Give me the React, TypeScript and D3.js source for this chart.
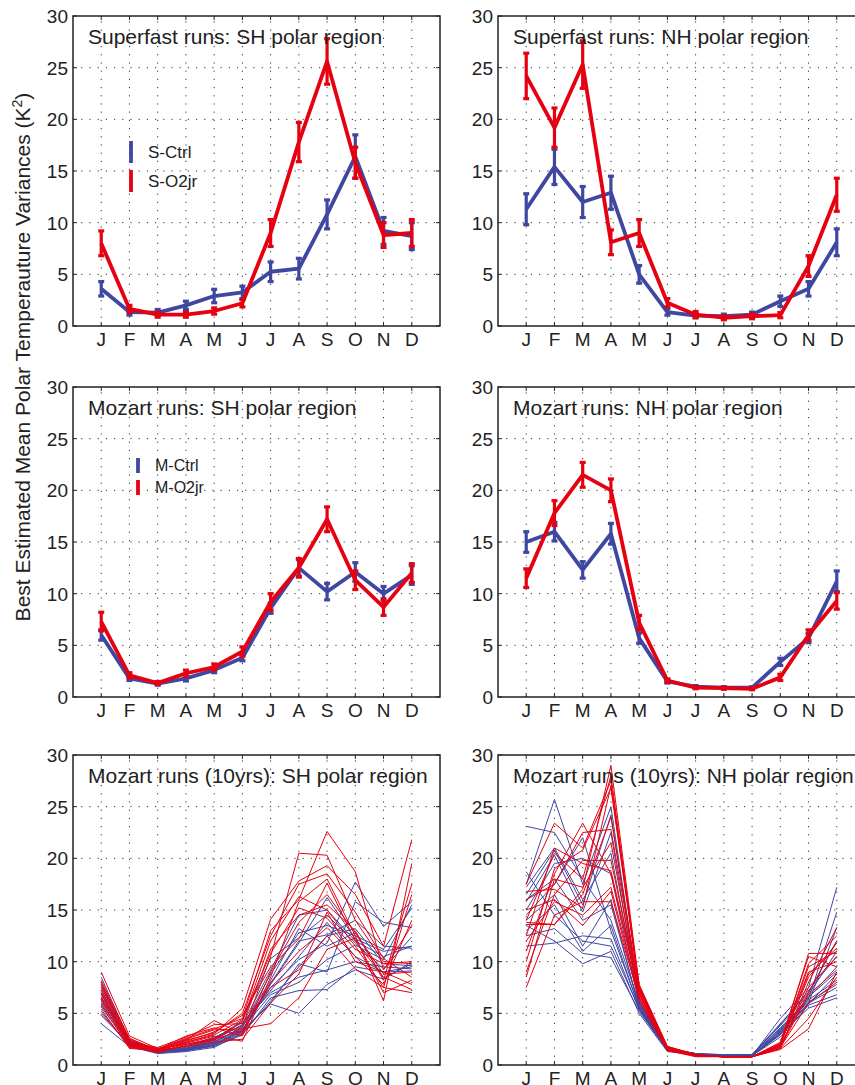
import React from "react";
import * as d3 from "d3";

// Month labels and positions
const months = ["J", "F", "M", "A", "M", "J", "J", "A", "S", "O", "N", "D"];
const yTicks = [0, 5, 10, 15, 20, 25, 30];

// Superfast runs, SH polar region (mean, error)
const sfShCtrl = [3.6, 1.35, 1.3, 2.0, 2.9, 3.25, 5.25, 5.55, 10.8, 16.4, 9.2, 8.7];
const sfShCtrlErr = [0.7, 0.3, 0.3, 0.4, 0.65, 0.6, 0.95, 1.0, 1.4, 2.1, 1.3, 1.3];
const sfShO2 = [8.0, 1.65, 1.1, 1.1, 1.45, 2.2, 9.0, 17.8, 25.6, 15.8, 8.8, 9.0];
const sfShO2Err = [1.2, 0.35, 0.25, 0.25, 0.3, 0.35, 1.3, 1.9, 2.2, 1.5, 1.2, 1.3];

// Superfast runs, NH polar region
const sfNhCtrl = [11.3, 15.4, 12.0, 12.9, 5.0, 1.35, 1.0, 0.95, 1.1, 2.4, 3.6, 8.1];
const sfNhCtrlErr = [1.5, 1.7, 1.5, 1.6, 0.85, 0.3, 0.2, 0.2, 0.25, 0.5, 0.7, 1.3];
const sfNhO2 = [24.2, 19.2, 25.3, 8.1, 9.0, 2.25, 1.1, 0.8, 0.95, 1.05, 5.8, 12.7];
const sfNhO2Err = [2.2, 1.9, 2.3, 1.2, 1.3, 0.4, 0.3, 0.2, 0.25, 0.25, 1.0, 1.6];

// Mozart runs, SH polar region
const mzShCtrl = [6.0, 1.8, 1.3, 1.8, 2.6, 3.8, 8.6, 12.5, 10.2, 12.1, 10.0, 11.8];
const mzShCtrlErr = [0.5, 0.2, 0.15, 0.25, 0.25, 0.3, 0.5, 0.8, 0.8, 0.9, 0.7, 0.9];
const mzShO2 = [7.3, 2.1, 1.35, 2.3, 2.9, 4.4, 9.2, 12.5, 17.2, 11.3, 8.7, 12.0];
const mzShO2Err = [0.9, 0.25, 0.15, 0.3, 0.3, 0.45, 0.8, 0.9, 1.2, 0.9, 0.8, 0.9];

// Mozart runs, NH polar region
const mzNhCtrl = [15.0, 16.0, 12.3, 15.8, 5.7, 1.5, 1.0, 0.9, 0.9, 3.4, 5.7, 11.2];
const mzNhCtrlErr = [1.0, 0.9, 0.8, 1.0, 0.5, 0.15, 0.1, 0.1, 0.1, 0.35, 0.45, 1.0];
const mzNhO2 = [11.5, 17.8, 21.5, 20.0, 7.2, 1.6, 0.9, 0.85, 0.8, 1.9, 6.0, 9.3];
const mzNhO2Err = [0.9, 1.2, 1.2, 1.1, 0.7, 0.15, 0.1, 0.1, 0.1, 0.3, 0.5, 0.8];

// Mozart 10-year runs, SH polar region: one row per run
const mz10ShCtrl = [
  [8.5, 2.4, 1.4, 1.6, 2.2, 3.6, 8.8, 12.8, 13.5, 12.5, 11.2, 15.2],
  [7.8, 2.2, 1.3, 1.5, 2.0, 3.3, 7.5, 10.2, 11.8, 17.7, 13.4, 15.8],
  [7.2, 2.1, 1.2, 1.4, 1.9, 3.0, 6.2, 9.5, 12.5, 13.2, 9.8, 9.6],
  [6.8, 2.0, 1.3, 1.6, 2.4, 3.9, 9.2, 14.5, 15.0, 12.0, 10.5, 11.5],
  [6.5, 2.3, 1.4, 1.7, 2.6, 4.1, 7.0, 8.5, 9.2, 10.0, 9.5, 9.3],
  [6.0, 1.9, 1.2, 1.5, 2.1, 3.4, 5.9, 5.0, 7.8, 9.2, 8.3, 10.0],
  [5.6, 2.0, 1.3, 1.4, 1.8, 2.9, 6.5, 7.2, 7.3, 9.5, 9.0, 9.1],
  [5.2, 1.8, 1.1, 1.3, 1.7, 3.1, 7.8, 11.8, 16.2, 12.2, 11.0, 11.5],
  [4.8, 2.0, 1.2, 1.4, 1.9, 3.2, 6.0, 9.8, 9.0, 15.8, 13.8, 13.3],
  [4.0, 1.8, 1.2, 1.5, 2.2, 3.7, 8.2, 13.2, 11.5, 12.8, 8.4, 9.8],
  [7.5, 2.3, 1.3, 1.6, 2.5, 4.3, 10.3, 12.3, 14.5, 11.8, 9.3, 12.4],
  [6.3, 2.1, 1.4, 1.8, 2.7, 3.8, 7.2, 10.5, 13.8, 10.5, 9.0, 9.5],
  [5.9, 2.2, 1.3, 1.5, 2.3, 3.5, 6.8, 8.0, 10.2, 11.6, 10.2, 15.5],
  [7.0, 2.1, 1.2, 1.4, 2.0, 3.3, 7.9, 12.0, 12.6, 14.0, 11.5, 11.3],
];
const mz10ShO2 = [
  [9.0, 2.8, 1.6, 2.4, 4.3, 3.0, 10.5, 20.5, 20.3, 14.0, 10.0, 9.8],
  [8.2, 2.5, 1.5, 2.6, 3.5, 4.5, 13.0, 16.0, 22.6, 18.7, 9.2, 13.5],
  [7.6, 2.3, 1.4, 2.2, 3.0, 5.5, 14.1, 17.8, 19.3, 16.5, 11.5, 21.8],
  [7.0, 2.0, 1.5, 2.1, 2.8, 2.3, 8.5, 15.8, 18.0, 12.5, 6.2, 19.5],
  [6.6, 1.9, 1.3, 2.0, 2.6, 3.8, 11.2, 14.5, 15.5, 13.0, 8.2, 17.5],
  [6.2, 1.8, 1.2, 1.9, 2.4, 4.2, 12.0, 16.3, 15.0, 11.5, 7.5, 16.5],
  [5.8, 1.7, 1.3, 2.3, 3.2, 4.8, 9.5, 12.2, 17.6, 12.0, 8.5, 7.3],
  [5.4, 1.6, 1.4, 1.8, 2.2, 2.5, 6.0, 8.8, 14.8, 10.0, 9.0, 7.8],
  [5.0, 1.9, 1.5, 2.5, 3.4, 3.5, 4.0, 6.5, 11.2, 12.3, 7.0, 8.2],
  [7.3, 2.2, 1.7, 2.7, 3.9, 4.0, 7.5, 9.2, 12.5, 9.3, 7.5, 7.0],
  [8.0, 2.4, 1.5, 2.8, 3.6, 2.8, 9.0, 13.8, 16.5, 12.8, 8.8, 9.0],
  [6.9, 2.0, 1.4, 2.2, 2.9, 4.4, 10.8, 15.2, 14.2, 11.2, 9.8, 10.0],
  [6.4, 2.1, 1.6, 2.0, 2.5, 3.3, 8.0, 11.0, 13.3, 10.5, 7.8, 14.0],
  [7.8, 2.6, 1.4, 2.4, 3.1, 5.0, 12.5, 17.5, 18.5, 14.8, 10.3, 8.5],
];

// Mozart 10-year runs, NH polar region
const mz10NhCtrl = [
  [23.1, 22.5, 18.0, 14.0, 6.0, 1.6, 1.1, 0.9, 1.0, 3.5, 6.5, 9.5],
  [18.7, 14.5, 12.0, 11.5, 5.5, 1.5, 1.0, 0.9, 0.9, 3.2, 6.0, 7.5],
  [17.5, 25.7, 17.5, 25.0, 6.4, 1.7, 1.1, 1.0, 1.0, 4.0, 7.0, 12.0],
  [16.5, 20.8, 15.5, 24.2, 6.2, 1.6, 1.1, 0.9, 1.0, 3.8, 6.8, 11.0],
  [15.8, 20.3, 14.8, 22.5, 5.8, 1.5, 1.0, 0.9, 0.9, 3.0, 5.5, 6.5],
  [15.0, 19.5, 20.0, 18.5, 5.9, 1.5, 1.0, 0.9, 0.9, 3.3, 6.3, 8.2],
  [14.5, 17.5, 22.0, 13.0, 5.6, 1.4, 1.0, 0.9, 0.9, 4.5, 7.5, 17.2],
  [14.0, 16.5, 11.5, 16.0, 5.4, 1.4, 1.0, 0.9, 1.0, 3.6, 6.1, 7.8],
  [13.5, 12.0, 9.8, 11.0, 5.0, 1.3, 1.0, 0.9, 0.9, 2.7, 5.8, 6.8],
  [12.5, 13.2, 10.8, 10.4, 5.2, 1.4, 1.0, 0.9, 0.9, 3.1, 6.0, 13.3],
  [11.5, 11.8, 12.5, 12.2, 5.3, 1.5, 1.1, 0.9, 0.9, 3.4, 6.4, 14.8],
  [17.2, 21.0, 16.0, 20.5, 6.1, 1.6, 1.1, 1.0, 1.0, 3.9, 7.2, 10.5],
  [16.0, 18.0, 14.0, 15.5, 5.7, 1.5, 1.0, 0.9, 0.9, 3.0, 5.9, 8.8],
  [13.0, 15.5, 11.0, 13.5, 5.5, 1.4, 1.0, 0.9, 0.9, 2.9, 6.6, 9.0],
];
const mz10NhO2 = [
  [13.8, 13.6, 17.0, 29.0, 7.8, 1.8, 1.0, 0.8, 0.8, 2.0, 9.5, 11.0],
  [17.5, 23.4, 21.0, 27.5, 7.5, 1.7, 0.9, 0.8, 0.8, 1.8, 10.8, 10.8],
  [11.0, 18.5, 23.4, 18.5, 6.8, 1.5, 0.9, 0.8, 0.8, 1.6, 8.0, 13.3],
  [9.0, 16.5, 19.8, 19.8, 7.0, 1.6, 0.9, 0.8, 0.8, 1.9, 7.0, 12.0],
  [7.5, 14.5, 15.8, 15.8, 6.5, 1.4, 0.8, 0.8, 0.8, 1.5, 3.5, 9.0],
  [14.0, 20.5, 18.0, 28.0, 7.6, 1.7, 1.0, 0.8, 0.8, 2.1, 9.0, 10.0],
  [16.0, 17.5, 22.5, 22.8, 7.2, 1.6, 0.9, 0.8, 0.8, 2.2, 10.5, 9.5],
  [12.0, 15.8, 14.5, 17.2, 6.6, 1.5, 0.9, 0.8, 0.8, 1.7, 6.0, 8.0],
  [10.0, 19.0, 20.8, 26.8, 7.4, 1.6, 0.9, 0.8, 0.8, 2.0, 8.5, 11.8],
  [15.0, 16.0, 13.5, 16.8, 6.2, 1.4, 0.9, 0.8, 0.8, 1.6, 4.5, 8.5],
  [8.5, 18.0, 17.2, 21.5, 6.9, 1.5, 0.9, 0.8, 0.8, 1.8, 7.5, 10.5],
  [13.6, 13.6, 16.5, 24.0, 7.3, 1.7, 1.0, 0.8, 0.8, 1.9, 9.8, 12.5],
  [12.5, 21.0, 19.5, 18.8, 7.0, 1.6, 0.9, 0.8, 0.8, 2.0, 8.8, 11.3],
  [16.8, 17.0, 15.2, 27.0, 7.7, 1.8, 1.0, 0.8, 0.8, 1.7, 6.8, 9.2],
];

const BLUE = "#3f47a0";
const RED = "#e60010";
const FONT = "'Liberation Sans', Arial, Helvetica, sans-serif";

const W = 855;
const H = 1085;
const PW = 367;
const colX = [73, 498];
const rowY = [16, 387, 755];
const PH = 310;

type ErrSeries = { mean: number[]; err: number[]; color: string };
type Legend = { labels: string[]; lx: number; ly: number; gap: number; len: number; size: number };

function Frame({ x0, y0, title, children }: { x0: number; y0: number; title: string; children?: React.ReactNode }) {
  const x = d3.scaleLinear().domain([0, 13]).range([x0, x0 + PW]);
  const y = d3.scaleLinear().domain([0, 30]).range([y0 + PH, y0]);
  const idx = d3.range(1, 13);
  return (
    <g>
      {/* dotted grid */}
      {idx.map((m) => (
        <line key={"gx" + m} x1={x(m)} x2={x(m)} y1={y(0)} y2={y(30)} stroke="#333" strokeWidth={1} strokeDasharray="1.2 7" />
      ))}
      {yTicks.filter((t) => t > 0 && t < 30).map((t) => (
        <line key={"gy" + t} x1={x(0)} x2={x(13)} y1={y(t)} y2={y(t)} stroke="#333" strokeWidth={1} strokeDasharray="1.2 7" />
      ))}
      {children}
      {/* box and inward ticks */}
      <rect x={x(0)} y={y(30)} width={PW} height={PH} fill="none" stroke="#222" strokeWidth={1.5} />
      {idx.map((m) => (
        <g key={"tx" + m}>
          <line x1={x(m)} x2={x(m)} y1={y(0)} y2={y(0) - 4} stroke="#222" strokeWidth={1} />
          <line x1={x(m)} x2={x(m)} y1={y(30)} y2={y(30) + 4} stroke="#222" strokeWidth={1} />
          <text x={x(m)} y={y(0) + 20} textAnchor="middle" fontSize={19} fill="#222">
            {months[m - 1]}
          </text>
        </g>
      ))}
      {yTicks.map((t) => (
        <g key={"ty" + t}>
          <line x1={x(0)} x2={x(0) + 4} y1={y(t)} y2={y(t)} stroke="#222" strokeWidth={1} />
          <line x1={x(13)} x2={x(13) - 4} y1={y(t)} y2={y(t)} stroke="#222" strokeWidth={1} />
          <text x={x(0) - 5} y={y(t) + 7} textAnchor="end" fontSize={19} fill="#222">
            {t}
          </text>
        </g>
      ))}
      <text x={x(0) + 15} y={y0 + 28} fontSize={21} fill="#222">
        {title}
      </text>
    </g>
  );
}

function ErrPanel({ x0, y0, title, series, legend }: { x0: number; y0: number; title: string; series: ErrSeries[]; legend?: Legend }) {
  const x = d3.scaleLinear().domain([0, 13]).range([x0, x0 + PW]);
  const y = d3.scaleLinear().domain([0, 30]).range([y0 + PH, y0]);
  const line = d3.line<number>().x((_, i) => x(i + 1)).y((d) => y(d));
  const cap = 3;
  return (
    <Frame x0={x0} y0={y0} title={title}>
      {series.map((s, si) => (
        <g key={si}>
          <path d={line(s.mean) || ""} fill="none" stroke={s.color} strokeWidth={3.8} strokeLinejoin="round" />
          {s.mean.map((v, i) => {
            const cx = x(i + 1);
            const lo = y(v - s.err[i]);
            const hi = y(v + s.err[i]);
            return (
              <g key={i} stroke={s.color}>
                <line x1={cx} x2={cx} y1={lo} y2={hi} strokeWidth={3.2} />
                <line x1={cx - cap} x2={cx + cap} y1={lo} y2={lo} strokeWidth={3.2} />
                <line x1={cx - cap} x2={cx + cap} y1={hi} y2={hi} strokeWidth={3.2} />
              </g>
            );
          })}
        </g>
      ))}
      {legend &&
        legend.labels.map((lab, i) => (
          <g key={lab}>
            <line x1={legend.lx} x2={legend.lx} y1={legend.ly + i * legend.gap} y2={legend.ly + i * legend.gap + legend.len} stroke={series[i].color} strokeWidth={3.8} />
            <text x={legend.lx + 17} y={legend.ly + i * legend.gap + legend.len / 2 + legend.size * 0.36} fontSize={legend.size} fill="#222">
              {lab}
            </text>
          </g>
        ))}
    </Frame>
  );
}

function SpaghettiPanel({ x0, y0, title, ctrl, o2 }: { x0: number; y0: number; title: string; ctrl: number[][]; o2: number[][] }) {
  const x = d3.scaleLinear().domain([0, 13]).range([x0, x0 + PW]);
  const y = d3.scaleLinear().domain([0, 30]).range([y0 + PH, y0]);
  const line = d3.line<number>().x((_, i) => x(i + 1)).y((d) => y(d));
  return (
    <Frame x0={x0} y0={y0} title={title}>
      {ctrl.map((r, i) => (
        <path key={"c" + i} d={line(r) || ""} fill="none" stroke={BLUE} strokeWidth={1} />
      ))}
      {o2.map((r, i) => (
        <path key={"o" + i} d={line(r) || ""} fill="none" stroke={RED} strokeWidth={1} />
      ))}
    </Frame>
  );
}

export default function App() {
  return (
    <svg width={W} height={H} style={{ position: "absolute", left: 0, top: 0, background: "#fff" }} fontFamily={FONT}>
      <rect width={W} height={H} fill="#fff" />
      <ErrPanel
        x0={colX[0]}
        y0={rowY[0]}
        title="Superfast runs: SH polar region"
        series={[
          { mean: sfShCtrl, err: sfShCtrlErr, color: BLUE },
          { mean: sfShO2, err: sfShO2Err, color: RED },
        ]}
        legend={{ labels: ["S-Ctrl", "S-O2jr"], lx: 131, ly: 141, gap: 29, len: 22, size: 17 }}
      />
      <ErrPanel
        x0={colX[1]}
        y0={rowY[0]}
        title="Superfast runs: NH polar region"
        series={[
          { mean: sfNhCtrl, err: sfNhCtrlErr, color: BLUE },
          { mean: sfNhO2, err: sfNhO2Err, color: RED },
        ]}
      />
      <ErrPanel
        x0={colX[0]}
        y0={rowY[1]}
        title="Mozart runs: SH polar region"
        series={[
          { mean: mzShCtrl, err: mzShCtrlErr, color: BLUE },
          { mean: mzShO2, err: mzShO2Err, color: RED },
        ]}
        legend={{ labels: ["M-Ctrl", "M-O2jr"], lx: 138, ly: 458, gap: 22, len: 15, size: 16 }}
      />
      <ErrPanel
        x0={colX[1]}
        y0={rowY[1]}
        title="Mozart runs: NH polar region"
        series={[
          { mean: mzNhCtrl, err: mzNhCtrlErr, color: BLUE },
          { mean: mzNhO2, err: mzNhO2Err, color: RED },
        ]}
      />
      <SpaghettiPanel x0={colX[0]} y0={rowY[2]} title="Mozart runs (10yrs): SH polar region" ctrl={mz10ShCtrl} o2={mz10ShO2} />
      <SpaghettiPanel x0={colX[1]} y0={rowY[2]} title="Mozart runs (10yrs): NH polar region" ctrl={mz10NhCtrl} o2={mz10NhO2} />
      <text transform="translate(30,357) rotate(-90)" textAnchor="middle" fontSize={21} fill="#222">
        Best Estimated Mean Polar Temperauture Variances (K
        <tspan fontSize={14} dy={-8}>2</tspan>
        <tspan dy={8}>)</tspan>
      </text>
    </svg>
  );
}
